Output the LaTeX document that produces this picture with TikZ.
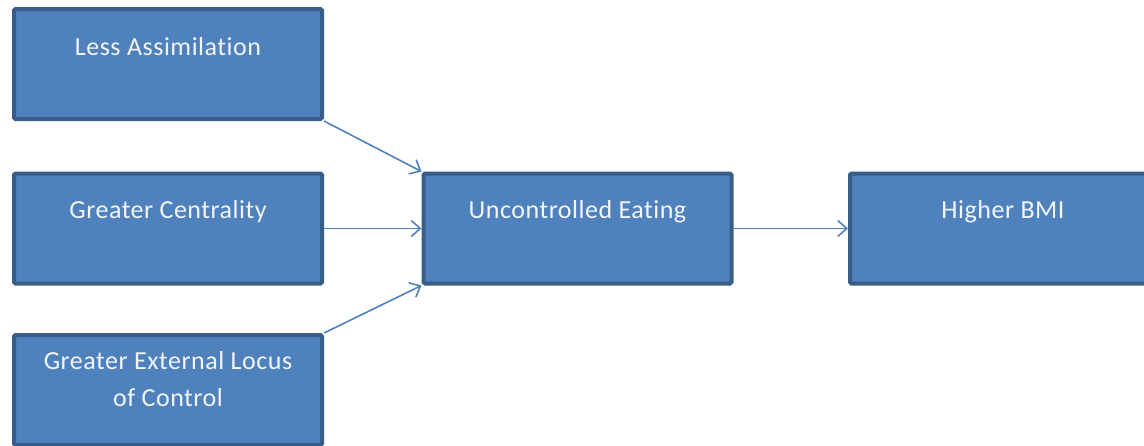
\documentclass[tikz,border=0pt]{standalone}
\usepackage{fontspec}
\setmainfont{Carlito}[LetterSpace=2,Ligatures=NoCommon]
\usetikzlibrary{arrows.meta}
\definecolor{boxfill}{HTML}{4F81BD}
\definecolor{boxline}{HTML}{385D8A}
\definecolor{arrowcol}{HTML}{4F81BD}
\definecolor{txtcol}{HTML}{F2F5FA}
\begin{document}
\begin{tikzpicture}[x=1pt,y=-1pt,
  box/.style={draw=boxline,fill=boxfill,line width=4pt,rounded corners=1.5pt,
    minimum width=308pt,minimum height=110pt,inner sep=0pt},
  lbl/.style={text=txtcol,font=\fontsize{26}{37}\selectfont,align=center,inner sep=0pt},
  conn/.style={draw=arrowcol,line width=1.6pt,-{Straight Barb[length=9pt,width=16pt,line width=1.6pt]}}]
\useasboundingbox (0,0) rectangle (1144,445);
\begin{scope}
\clip (0,0) rectangle (1144,445);
\node[box] (b1) at (168,64) {};
\node[box] (b2) at (168,228.5) {};
\node[box] (b3) at (168,390) {};
\node[box] (c) at (577.5,228.5) {};
\node[box,minimum width=306pt] (r) at (1003,228.5) {};
\node[lbl] (t1) at (168,47) {Less Assimilation};
\node[lbl] (t2) at (168,212) {Greater Centrality};
\node[lbl] (t3) at (168,379.5) {Greater External Locus\\of Control};
\node[lbl] (tc) at (577.5,212) {Uncontrolled Eating};
\node[lbl] (tr) at (1003,212) {Higher BMI};
\end{scope}
\draw[conn] (b1.south east) -- (c.north west);
\draw[conn] (b2.east) -- (c.west);
\draw[conn] (b3.north east) -- (c.south west);
\draw[conn] (c.east) -- (r.west);
\end{tikzpicture}
\end{document}
